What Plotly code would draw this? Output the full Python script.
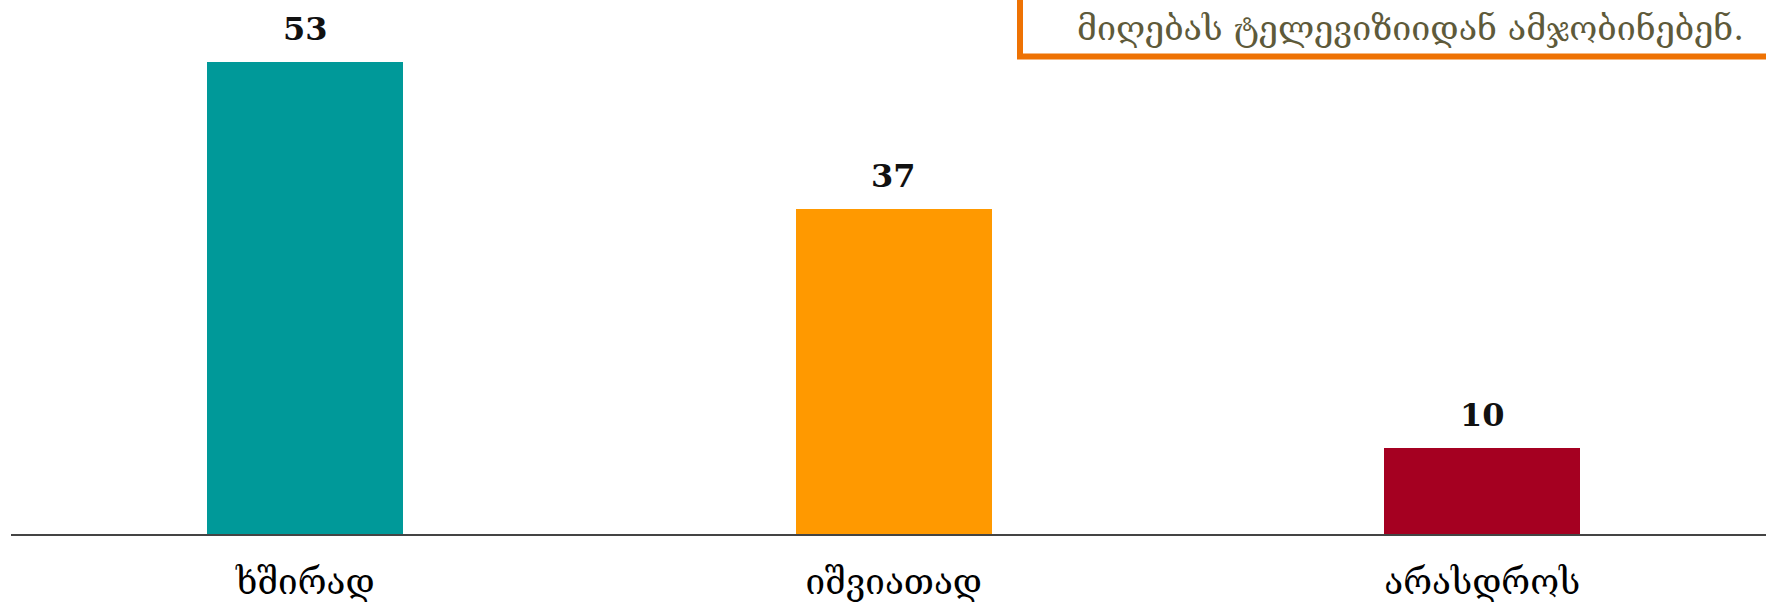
import plotly.graph_objects as go

categories = ["ხშირად", "იშვიათად", "არასდროს"]
values = [53.4, 36.8, 9.7]
bar_colors = ["#009999", "#FF9900", "#A50021"]
note_text = "მიღებას ტელევიზიიდან ამჯობინებენ."

W, H = 1766, 604
ML, MR, MT, MB = 11, 0, 0, 70
plot_w = W - ML - MR
plot_h = H - MT - MB
cat_px = 588.5
y_top = plot_h / 8.83

fig = go.Figure()
fig.add_trace(go.Bar(
    x=categories, y=values,
    marker=dict(color=bar_colors, line=dict(width=0)),
    width=0.333,
    hoverinfo="skip",
))

for c, v in zip(categories, values):
    fig.add_annotation(
        x=c, y=v, text=f"<b>{v:.0f}</b>", showarrow=False,
        yanchor="bottom", yshift=12,
        font=dict(family="DejaVu Serif", size=32, color="#111111"),
    )

def px_x(px):
    return (px - ML) / plot_w

def px_y(py):
    return (H - MB - py) / plot_h

fig.add_shape(
    type="rect", xref="paper", yref="paper",
    x0=px_x(1020), x1=px_x(1790), y0=px_y(56.5), y1=px_y(-20),
    line=dict(color="#EE7203", width=6), fillcolor="white", layer="above",
)
fig.add_annotation(
    xref="paper", yref="paper", x=px_x(1410), y=px_y(28),
    text=note_text, showarrow=False, xanchor="center", yanchor="middle",
    font=dict(family="DejaVu Serif", size=34, color="#5E5A3A"),
)

fig.update_layout(
    width=W, height=H,
    margin=dict(l=ML, r=MR, t=MT, b=MB),
    paper_bgcolor="white", plot_bgcolor="white",
    showlegend=False,
    bargap=0,
)
fig.update_xaxes(
    type="category", range=[-0.5, -0.5 + plot_w / cat_px],
    showline=True, linecolor="#444444", linewidth=2,
    ticks="", showgrid=False, zeroline=False,
    tickfont=dict(family="DejaVu Serif", size=35, color="#000000"),
    ticklabelstandoff=16,
)
fig.update_yaxes(visible=False, range=[0, y_top])

fig.write_html(
    "out.html",
    config={"displayModeBar": False, "staticPlot": True},
    post_script="document.body.style.margin='0';document.body.style.overflow='hidden';",
)
